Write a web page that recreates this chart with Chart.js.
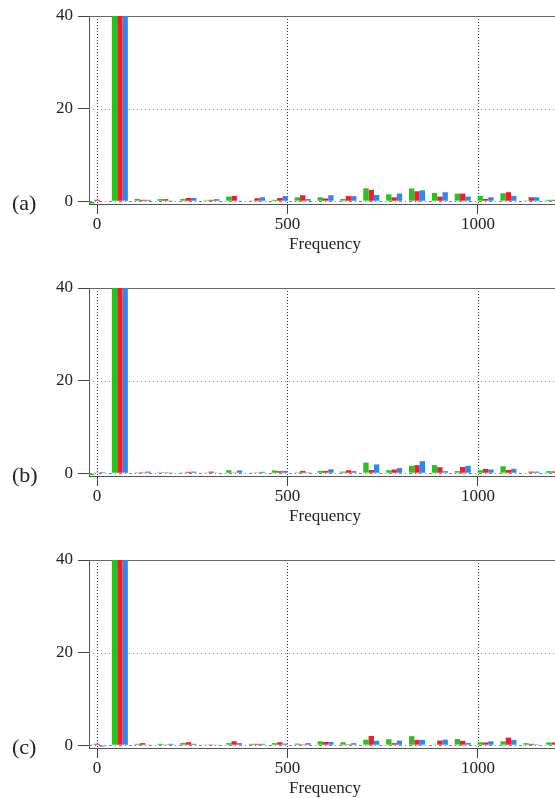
<!DOCTYPE html>
<html>
<head>
<meta charset="utf-8">
<script src="https://cdn.jsdelivr.net/npm/chart.js@4.4.1/dist/chart.umd.min.js"></script>
<style>
html,body{margin:0;padding:0;background:#fff;overflow:hidden;width:555px;height:798px;position:relative}
.panel{position:absolute;left:0;width:600px;height:272px}
.tag{position:absolute;left:12px;font-family:"Liberation Serif",serif;font-size:22px;line-height:22px;color:#222}
</style>
</head>
<body>
<div class="panel" style="top:0px"><canvas id="ca" width="600" height="272"></canvas></div>
<div class="panel" style="top:272px"><canvas id="cb" width="600" height="272"></canvas></div>
<div class="panel" style="top:544px"><canvas id="cc" width="600" height="272"></canvas></div>
<div class="tag" style="top:192px">(a)</div>
<div class="tag" style="top:464px">(b)</div>
<div class="tag" style="top:736px">(c)</div>
<script>
// ---- data ----
const freqs = [0, 60, 120, 180, 240, 300, 360, 420, 480, 540, 600, 660, 720, 780, 840, 900, 960, 1020, 1080, 1140, 1200];
const seriesNames = ['Green', 'Red', 'Blue'];
const xTicks = [0, 500, 1000];
const yTicks = [0, 20, 40];
const xTitle = 'Frequency';

const greenA = [-0.5, 100, 0.5, 0.45, 0.5, 0.2, 1.0, 0.15, 0.3, 0.85, 0.85, 0.5, 2.8, 1.5, 2.75, 1.8, 1.65, 1.15, 1.7, 0.05, 0.3];
const redA   = [0.3, 100, 0.3, 0.45, 0.7, 0.3, 1.15, 0.65, 0.7, 1.3, 0.6, 1.1, 2.45, 0.85, 2.15, 1.0, 1.65, 0.5, 1.95, 0.85, 0.3];
const blueA  = [0.0, 100, 0.3, 0.05, 0.7, 0.45, 0.15, 0.85, 1.1, 0.45, 1.3, 1.1, 1.35, 1.65, 2.35, 1.95, 1.0, 0.85, 1.15, 0.85, 0.3];

const greenB = [-0.4, 100, 0.2, 0.2, 0.15, 0.15, 0.65, 0.15, 0.6, 0.2, 0.5, 0.35, 2.3, 0.65, 1.6, 1.75, 0.45, 0.65, 1.5, 0.1, 0.45];
const redB   = [0.05, 100, 0.2, 0.2, 0.3, 0.35, 0.05, 0.05, 0.45, 0.5, 0.5, 0.65, 0.7, 0.8, 1.75, 1.3, 1.35, 0.95, 0.7, 0.35, 0.4];
const blueB  = [0.25, 100, 0.35, 0.05, 0.35, 0.15, 0.6, 0.3, 0.5, 0.2, 0.85, 0.45, 1.9, 1.1, 2.6, 0.45, 1.6, 0.8, 0.95, 0.35, 0.3];

const greenC = [0.05, 100, 0.3, 0.3, 0.5, 0.15, 0.45, 0.3, 0.45, 0.35, 0.85, 0.65, 1.2, 1.3, 1.95, 0.15, 1.35, 0.65, 0.85, 0.45, 0.6];
const redC   = [0.3, 100, 0.45, 0.05, 0.65, 0.05, 0.85, 0.3, 0.65, 0.2, 0.7, 0.2, 2.0, 0.45, 1.15, 1.0, 0.95, 0.6, 1.65, 0.3, 0.6];
const blueC  = [-0.3, 100, 0.15, 0.3, 0.3, 0.15, 0.45, 0.3, 0.35, 0.45, 0.7, 0.45, 0.95, 1.0, 1.15, 1.2, 0.5, 0.85, 1.15, 0.2, 0.4];

// ---- style ----
const colors = ['#27c21f', '#f21d2c', '#2a89f2'];
const FONT = 'Liberation Serif';
const xMin = -21, xMax = 1218, yMin = -0.6, yMax = 40;

function hLineStyle(v) {
  if (v === yMax) return {dash: [], color: '#666'};
  if (v === 0) return {dash: [3, 3, 1, 3], color: '#888'};
  return {dash: [1, 3], color: '#888'};
}

const refGrid = {
  id: 'refGrid',
  beforeDatasetsDraw(chart) {
    const {ctx, chartArea: a, scales: {x, y}} = chart;
    ctx.save();
    ctx.lineWidth = 1;
    ctx.strokeStyle = '#333';
    ctx.setLineDash([1, 2]);
    xTicks.forEach(v => {
      const px = Math.round(x.getPixelForValue(v)) + 0.5;
      ctx.beginPath(); ctx.moveTo(px, a.top); ctx.lineTo(px, a.bottom); ctx.stroke();
    });
    yTicks.forEach(v => {
      const st = hLineStyle(v);
      const py = Math.round(y.getPixelForValue(v)) + 0.5;
      ctx.strokeStyle = st.color;
      ctx.setLineDash(st.dash);
      ctx.beginPath(); ctx.moveTo(a.left, py); ctx.lineTo(a.right + 40, py); ctx.stroke();
    });
    ctx.restore();
  }
};

function makeChart(id, series) {
  return new Chart(document.getElementById(id), {
    type: 'bar',
    data: {
      labels: freqs,
      datasets: series.map((d, i) => ({
        label: seriesNames[i], data: d, backgroundColor: colors[i], borderWidth: 0
      }))
    },
    options: {
      responsive: false, animation: false, devicePixelRatio: 1,
      layout: {padding: {top: 16, right: 39, bottom: 0, left: 0}},
      plugins: {legend: {display: false}, tooltip: {enabled: false}},
      datasets: {bar: {categoryPercentage: 0.7, barPercentage: 1.0, clip: 0}},
      scales: {
        x: {
          type: 'linear', min: xMin, max: xMax, offset: false,
          afterBuildTicks: s => { s.ticks = xTicks.map(v => ({value: v})); },
          afterFit: s => { s.height = 68; },
          grid: {offset: false, drawOnChartArea: false, drawTicks: true, tickLength: 10, tickColor: '#444', tickWidth: 1},
          border: {display: true, color: '#555', width: 1},
          ticks: {padding: 0, color: '#222', autoSkip: false, maxRotation: 0, font: {family: FONT, size: 17},
                  callback: v => String(v)},
          title: {display: true, text: xTitle, color: '#222', font: {family: FONT, size: 17}, padding: {top: 0, bottom: 17}}
        },
        y: {
          min: yMin, max: yMax,
          afterBuildTicks: s => { s.ticks = yTicks.map(v => ({value: v})); },
          afterFit: s => { s.width = 89; },
          grid: {drawOnChartArea: false, drawTicks: true, tickLength: 11, tickColor: '#444', tickWidth: 1},
          border: {display: true, color: '#555', width: 1},
          ticks: {padding: 5, color: '#222', font: {family: FONT, size: 17}, callback: v => String(v)}
        }
      }
    },
    plugins: [refGrid]
  });
}

makeChart('ca', [greenA, redA, blueA]);
makeChart('cb', [greenB, redB, blueB]);
makeChart('cc', [greenC, redC, blueC]);
</script>
</body>
</html>
